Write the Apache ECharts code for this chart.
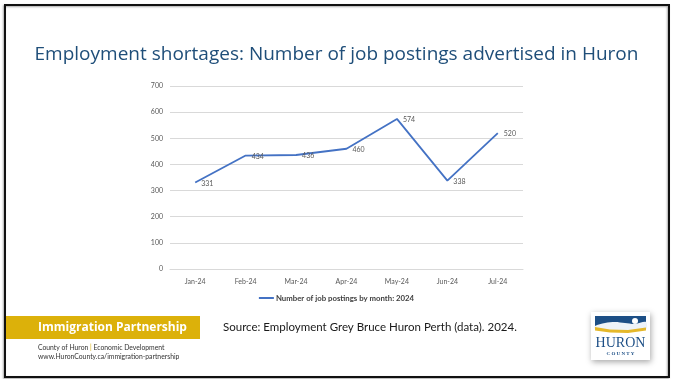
<!DOCTYPE html>
<html>
<head>
<meta charset="utf-8">
<script src="https://cdn.jsdelivr.net/npm/echarts@6/dist/echarts.min.js"></script>
<style>
  html, body { margin: 0; padding: 0; background: #ffffff; }
  #chart { width: 673px; height: 379px; }
</style>
</head>
<body>
<div id="chart"></div>
<script>
// Monthly job postings in Huron, 2024
const months = ['Jan-24', 'Feb-24', 'Mar-24', 'Apr-24', 'May-24', 'Jun-24', 'Jul-24'];
const postings = [331, 434, 436, 460, 574, 338, 520];
const seriesName = 'Number of job postings by month: 2024';
const titleText = 'Employment shortages: Number of job postings advertised in Huron';
const sourceText = 'Source: Employment Grey Bruce Huron Perth (data). 2024.';

const chart = echarts.init(document.getElementById('chart'), null, { renderer: 'canvas' });

const labelFont = 'Lato, "Liberation Sans", sans-serif';

chart.setOption({
  animation: false,
  backgroundColor: '#ffffff',
  title: {
    text: titleText,
    left: 'center',
    top: 40,
    textStyle: {
      color: '#1f4e79',
      fontFamily: '"Open Sans", sans-serif',
      fontWeight: 'normal',
      fontSize: 19
    }
  },
  grid: { left: 170, right: 150, top: 86, bottom: 110 },
  legend: {
    data: [seriesName],
    top: 289,
    left: 'center',
    icon: 'rect',
    itemWidth: 15,
    itemHeight: 2,
    itemGap: 4,
    textStyle: {
      color: '#404040',
      fontFamily: labelFont,
      fontSize: 7.8,
      fontWeight: 'bold',
      padding: [0, 0, 0, -3]
    }
  },
  xAxis: {
    type: 'category',
    data: months,
    boundaryGap: true,
    axisLine: { lineStyle: { color: '#d9d9d9', width: 1 } },
    axisTick: { show: false },
    axisLabel: { color: '#595959', fontFamily: labelFont, fontSize: 7, margin: 9 }
  },
  yAxis: {
    type: 'value',
    min: 0,
    max: 700,
    interval: 100,
    axisLine: { show: false },
    axisTick: { show: false },
    splitLine: { lineStyle: { color: '#d9d9d9', width: 1 } },
    axisLabel: { color: '#595959', fontFamily: labelFont, fontSize: 7, margin: 7 }
  },
  series: [{
    name: seriesName,
    type: 'line',
    data: postings,
    symbol: 'circle',
    symbolSize: 0,
    showSymbol: true,
    lineStyle: { color: '#4472c4', width: 1.8 },
    itemStyle: { color: '#4472c4' },
    label: {
      show: true,
      position: 'right',
      distance: 6,
      offset: [0, 1],
      color: '#595959',
      fontFamily: labelFont,
      fontSize: 7
    }
  }],
  graphic: [
    // slide frame
    {
      type: 'rect',
      shape: { x: 5, y: 5, width: 664, height: 372 },
      style: { fill: 'none', stroke: '#111111', lineWidth: 2,
               shadowColor: 'rgba(0,0,0,0.35)', shadowBlur: 2, shadowOffsetX: -1, shadowOffsetY: 1 },
      silent: true
    },
    // program banner
    {
      type: 'rect',
      shape: { x: 6, y: 316, width: 194, height: 23 },
      style: { fill: '#dcb10a' }
    },
    {
      type: 'text',
      x: 38, y: 328,
      style: {
        text: 'Immigration Partnership',
        fill: '#ffffff',
        font: 'bold 12px "Open Sans", sans-serif',
        verticalAlign: 'middle'
      }
    },
    {
      type: 'text',
      x: 38, y: 348,
      style: {
        rich: {
          a: { fill: '#333333', fontSize: 6.8, fontFamily: labelFont },
          b: { fill: '#dcb10a', fontSize: 6.8, fontFamily: labelFont }
        },
        text: '{a|County of Huron }{b||}{a| Economic Development}',
        verticalAlign: 'middle'
      }
    },
    {
      type: 'text',
      x: 38, y: 357,
      style: {
        text: 'www.HuronCounty.ca/immigration-partnership',
        fill: '#333333',
        font: '6.8px ' + labelFont,
        verticalAlign: 'middle'
      }
    },
    {
      type: 'text',
      x: 223, y: 327,
      style: {
        text: sourceText,
        fill: '#1a1a1a',
        font: '11.5px Lato, sans-serif',
        verticalAlign: 'middle'
      }
    },
    // county logo
    {
      type: 'rect',
      shape: { x: 591, y: 312, width: 59, height: 48 },
      style: { fill: '#ffffff', shadowColor: 'rgba(0,0,0,0.35)', shadowBlur: 6, shadowOffsetX: 1, shadowOffsetY: 2 }
    },
    {
      type: 'rect',
      shape: { x: 595, y: 316, width: 51, height: 13 },
      style: { fill: '#1d4f86' }
    },
    {
      type: 'polygon',
      shape: { points: [[595, 326], [605, 323], [615, 322], [625, 323], [635, 324], [646, 322], [646, 329], [595, 329]], smooth: 0.3 },
      style: { fill: '#eef3f9' }
    },
    {
      type: 'polygon',
      shape: { points: [[595, 327], [610, 329.5], [628, 330], [646, 327.5], [646, 330.5], [628, 333], [610, 332.5], [595, 330.5]] },
      style: { fill: '#e5b82a' }
    },
    {
      type: 'circle',
      shape: { cx: 635, cy: 321, r: 3 },
      style: { fill: '#ffffff' }
    },
    {
      type: 'text',
      x: 620.5, y: 343,
      style: {
        text: 'HURON',
        fill: '#1d4f86',
        font: '14px "Liberation Serif", "DejaVu Serif", serif',
        align: 'center',
        verticalAlign: 'middle'
      }
    },
    {
      type: 'text',
      x: 620.5, y: 354,
      style: {
        text: 'C O U N T Y',
        fill: '#1d4f86',
        font: 'bold 5px "Liberation Serif", serif',
        align: 'center',
        verticalAlign: 'middle'
      }
    }
  ]
});
</script>
</body>
</html>
